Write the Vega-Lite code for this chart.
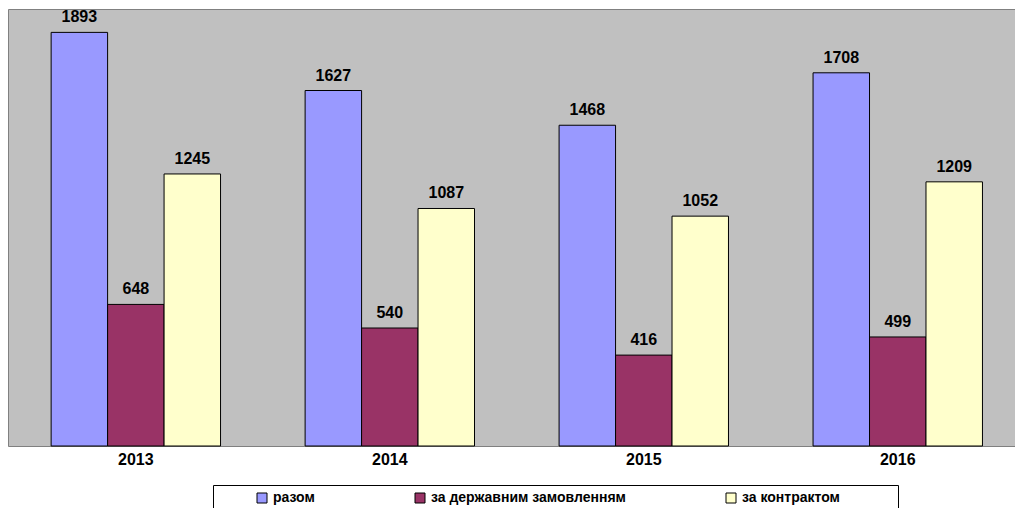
{
  "$schema": "https://vega.github.io/schema/vega-lite/v6.json",
  "width": 1007,
  "height": 437,
  "autosize": {"type": "none"},
  "padding": {"left": 8, "top": 9, "right": 0, "bottom": 62},
  "background": "white",
  "config": {
    "view": {"fill": "#C0C0C0", "stroke": "#808080", "strokeWidth": 1},
    "font": "Liberation Sans"
  },
  "data": {
    "values": [
      {"year": "2013", "cat": "разом", "value": 1893},
      {"year": "2013", "cat": "за державним замовленням", "value": 648},
      {"year": "2013", "cat": "за контрактом", "value": 1245},
      {"year": "2014", "cat": "разом", "value": 1627},
      {"year": "2014", "cat": "за державним замовленням", "value": 540},
      {"year": "2014", "cat": "за контрактом", "value": 1087},
      {"year": "2015", "cat": "разом", "value": 1468},
      {"year": "2015", "cat": "за державним замовленням", "value": 416},
      {"year": "2015", "cat": "за контрактом", "value": 1052},
      {"year": "2016", "cat": "разом", "value": 1708},
      {"year": "2016", "cat": "за державним замовленням", "value": 499},
      {"year": "2016", "cat": "за контрактом", "value": 1209}
    ]
  },
  "encoding": {
    "x": {
      "field": "year",
      "type": "nominal",
      "scale": {"paddingInner": 0.333, "paddingOuter": 0.149, "align": 0.57},
      "axis": {
        "title": null,
        "labelAngle": 0,
        "ticks": false,
        "domain": false,
        "labelFont": "Liberation Sans",
        "labelFontSize": 16,
        "labelFontWeight": "bold",
        "labelColor": "black",
        "labelPadding": 5
      }
    },
    "xOffset": {
      "field": "cat",
      "type": "nominal",
      "sort": ["разом", "за державним замовленням", "за контрактом"],
      "scale": {"paddingInner": 0, "paddingOuter": 0}
    },
    "y": {
      "field": "value",
      "type": "quantitative",
      "scale": {"domain": [0, 2000]},
      "axis": null
    }
  },
  "layer": [
    {
      "mark": {"type": "bar", "stroke": "black", "strokeWidth": 1},
      "encoding": {
        "color": {
          "field": "cat",
          "type": "nominal",
          "sort": ["разом", "за державним замовленням", "за контрактом"],
          "scale": {
            "domain": ["разом", "за державним замовленням", "за контрактом"],
            "range": ["#9999FF", "#993366", "#FFFFCC"]
          },
          "legend": {
            "title": " ",
            "titleOrient": "right",
            "titlePadding": 52,
            "orient": "none",
            "direction": "horizontal",
            "legendX": 205,
            "legendY": 476,
            "strokeColor": "black",
            "fillColor": "white",
            "padding": 6,
            "symbolType": "square",
            "symbolSize": 100,
            "symbolStrokeColor": "black",
            "symbolStrokeWidth": 1,
            "symbolOffset": 36,
            "labelFont": "Liberation Sans",
            "labelFontSize": 14,
            "labelFontWeight": "bold",
            "labelColor": "black",
            "labelOffset": 4,
            "labelLimit": 0,
            "columnPadding": 62
          }
        }
      }
    },
    {
      "mark": {
        "type": "text",
        "baseline": "alphabetic",
        "dy": -10,
        "fontWeight": "bold",
        "fontSize": 16,
        "font": "Liberation Sans",
        "color": "black"
      },
      "encoding": {"text": {"field": "value", "type": "quantitative"}}
    }
  ]
}
